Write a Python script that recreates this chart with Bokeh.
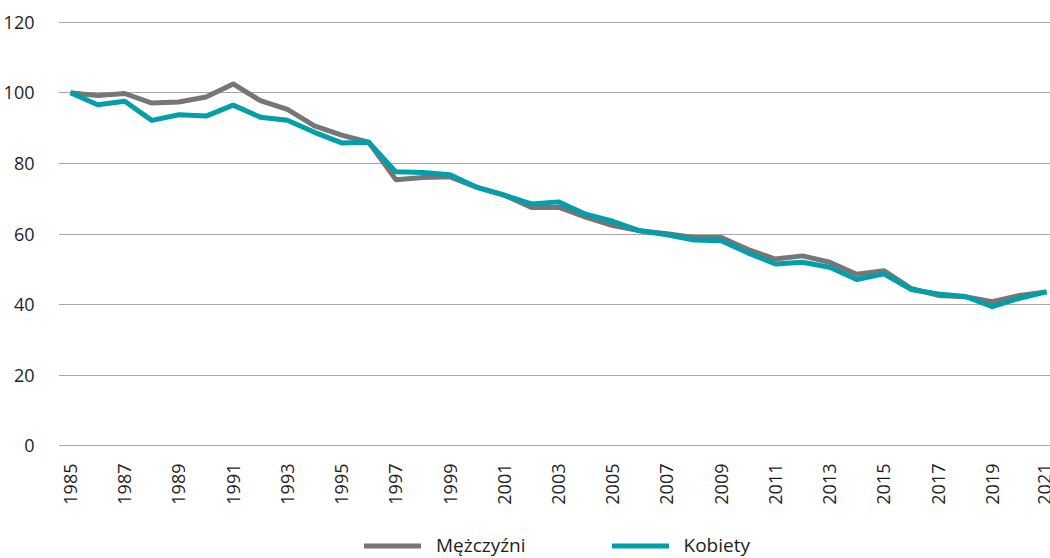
import math
from bokeh.plotting import figure
from bokeh.layouts import column
from bokeh.models import Range1d, FixedTicker, Legend, LegendItem, ColumnDataSource
from bokeh.embed import file_html
from bokeh.resources import INLINE

years = list(range(1985, 2022))
men = [100, 99.2, 99.8, 97.1, 97.4, 98.8, 102.5, 97.8, 95.3, 90.6, 88.0, 86.0,
       75.4, 76.0, 76.2, 73.2, 71.0, 67.5, 67.6, 64.8, 62.4, 60.9, 60.1, 59.0,
       59.0, 55.6, 52.9, 53.8, 52.0, 48.6, 49.6, 44.6, 42.6, 42.2, 40.8, 42.6, 43.6]
women = [100, 96.6, 97.6, 92.2, 93.8, 93.4, 96.5, 93.1, 92.2, 88.8, 85.8, 86.0,
         77.6, 77.4, 76.8, 73.2, 71.0, 68.5, 69.1, 65.6, 63.6, 60.9, 59.8, 58.3,
         58.1, 54.6, 51.5, 52.0, 50.6, 47.1, 48.7, 44.3, 43.0, 42.3, 39.4, 41.8, 43.6]
series_names = ["Mężczyźni", "Kobiety"]
x_ticks = list(range(1985, 2022, 2))
y_ticks = [0, 20, 40, 60, 80, 100, 120]

GRAY = "#767676"
TEAL = "#009fa9"
FONT = "Open Sans"
TXT = "#1e1e1e"

src = ColumnDataSource(dict(year=years, men=men, women=women))

p = figure(width=1050, height=526, output_backend="svg", toolbar_location=None,
           x_range=Range1d(1984.558, 2021.146), y_range=Range1d(-0.2, 120.2),
           min_border_left=57, min_border_right=0, min_border_top=21,
           min_border_bottom=80)
p.outline_line_color = None
p.background_fill_color = "white"
p.border_fill_color = "white"

r1 = p.line("year", "men", source=src, line_color=GRAY, line_width=5, line_join="round")
r2 = p.line("year", "women", source=src, line_color=TEAL, line_width=5, line_join="round")

p.xgrid.grid_line_color = None
p.ygrid.grid_line_color = "#a6a6a6"
p.ygrid.grid_line_width = 1
p.ygrid.ticker = FixedTicker(ticks=y_ticks)

p.yaxis.ticker = FixedTicker(ticks=y_ticks)
p.yaxis.axis_line_color = None
p.yaxis.major_tick_line_color = None
p.yaxis.minor_tick_line_color = None
p.yaxis.major_label_standoff = 18
p.yaxis.major_label_text_font = FONT
p.yaxis.major_label_text_font_size = "18px"
p.yaxis.major_label_text_color = TXT

p.xaxis.ticker = FixedTicker(ticks=x_ticks)
p.xaxis.axis_line_color = None
p.xaxis.major_tick_line_color = None
p.xaxis.minor_tick_line_color = None
p.xaxis.major_label_orientation = math.pi / 2
p.xaxis.major_label_standoff = 11
p.xaxis.major_label_text_font = FONT
p.xaxis.major_label_text_font_size = "18px"
p.xaxis.major_label_text_color = TXT

# legend strip below the chart
lg = figure(width=1050, height=32, output_backend="svg", toolbar_location=None,
            x_range=Range1d(0, 1), y_range=Range1d(0, 1),
            x_axis_location=None, y_axis_location=None,
            min_border_left=0, min_border_right=0, min_border_top=0, min_border_bottom=0)
lg.grid.visible = False
lg.outline_line_color = None
l1 = lg.line(x=[5, 6], y=[5, 6], line_color=GRAY, line_width=5, line_cap="round")
l2 = lg.line(x=[5, 6], y=[5, 6], line_color=TEAL, line_width=5, line_cap="round")
legend = Legend(items=[LegendItem(label=series_names[0], renderers=[l1]),
                       LegendItem(label=series_names[1], renderers=[l2])],
                orientation="horizontal", location=(306, 0),
                glyph_width=57, glyph_height=19, label_standoff=15, spacing=86,
                label_text_font=FONT, label_text_font_size="19px",
                label_text_color=TXT, border_line_color=None,
                background_fill_alpha=0, margin=0, padding=0)
lg.add_layout(legend, "center")

layout = column(p, lg, spacing=0)
open("out.html", "w").write(file_html(layout, INLINE))
